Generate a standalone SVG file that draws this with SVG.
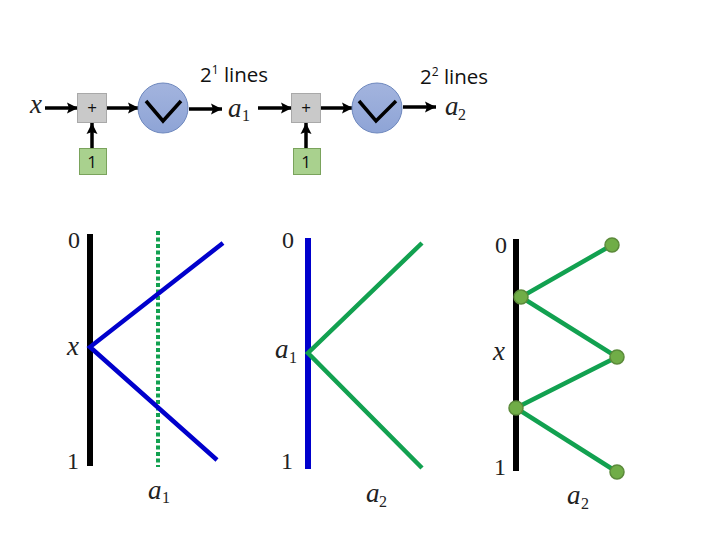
<svg xmlns="http://www.w3.org/2000/svg" width="720" height="540" viewBox="0 0 720 540">
<defs>
<marker id="ah" markerUnits="userSpaceOnUse" markerWidth="12" markerHeight="12" refX="11" refY="6" orient="auto"><path d="M0 0.500L11 6L0 11.500L2 6Z" fill="#000"/></marker>
<linearGradient id="blue" x1="0" y1="0" x2="0" y2="1"><stop offset="0" stop-color="#a3b4de"/><stop offset="1" stop-color="#8ea4d6"/></linearGradient>
</defs>
<style>
.lbl{font-family:"Open Sans","Noto Sans",sans-serif;font-size:20.500px;fill:#111}
.small{font-family:"Open Sans","Noto Sans",sans-serif;font-size:17px;fill:#111;text-anchor:middle}
.m{font-family:"Liberation Serif",serif;font-size:24px;fill:#222}
.mi{font-family:"Liberation Serif",serif;font-style:italic;font-size:27px;fill:#222}
.sub{font-family:"Liberation Serif",serif;font-size:16px;fill:#222}
.gray{fill:#c9c9c9;stroke:#a9a9a9;stroke-width:1}
.gr{fill:#a9d18e;stroke:#7aa35c;stroke-width:1}
.cir{fill:url(#blue);stroke:#6d87bd;stroke-width:1}
.vee{fill:none;stroke:#000;stroke-width:3.500}
.arr{stroke:#000;stroke-width:3.500;fill:none;marker-end:url(#ah)}
.dot{fill:#70ad47;stroke:#5b8a3a;stroke-width:1.500}
.gl{stroke:#12a150;stroke-width:4.500;fill:none}
.bl{stroke:#0000cc;stroke-width:4.500;fill:none}
</style>
<g id="connectors">
<line class="arr" x1="45" y1="108" x2="78" y2="108"/>
<line class="arr" x1="106" y1="108" x2="139" y2="108"/>
<line class="arr" x1="92" y1="148" x2="92" y2="123"/>
<line class="arr" x1="189" y1="109" x2="222" y2="109"/>
<line class="arr" x1="258" y1="108" x2="292" y2="108"/>
<line class="arr" x1="320" y1="108" x2="353" y2="108"/>
<line class="arr" x1="306" y1="148" x2="306" y2="123"/>
<line class="arr" x1="403" y1="107" x2="436" y2="107"/>
</g>
<g id="x-in"><text class="mi" x="30" y="113">x</text></g>
<g id="add1"><rect class="gray" x="77.500" y="93.500" width="29" height="29"/><text class="small" x="92" y="114">+</text></g>
<g id="one1"><rect class="gr" x="79.500" y="148.500" width="27" height="26"/><text class="small" x="92" y="168">1</text></g>
<g id="vee1"><circle class="cir" cx="163" cy="108" r="25"/><path class="vee" d="M146 101L163 121L181 101"/></g>
<g id="a1-out"><text class="mi" x="228" y="117">a</text><text class="sub" x="242" y="121">1</text></g>
<g id="add2"><rect class="gray" x="291.500" y="93.500" width="29" height="29"/><text class="small" x="306" y="114">+</text></g>
<g id="one2"><rect class="gr" x="293.500" y="148.500" width="27" height="26"/><text class="small" x="306" y="168">1</text></g>
<g id="vee2"><circle class="cir" cx="377" cy="108" r="25"/><path class="vee" d="M359 101L376 121L396 101"/></g>
<g id="a2-out"><text class="mi" x="445" y="115">a</text><text class="sub" x="458" y="120">2</text></g>
<g id="title1"><text class="lbl" x="200" y="82">2<tspan font-size="12" dy="-8">1</tspan><tspan dy="8"> lines</tspan></text></g>
<g id="title2"><text class="lbl" x="420" y="84">2<tspan font-size="12" dy="-8">2</tspan><tspan dy="8"> lines</tspan></text></g>
<g id="panel1">
<rect x="87" y="234" width="6" height="232" fill="#000"/>
<line x1="158" y1="231" x2="158" y2="467" stroke="#12a150" stroke-width="4" stroke-dasharray="4 2.500"/>
<path class="bl" d="M223 243L90 347L217 460"/>
<text class="m" x="68" y="248">0</text><text class="mi" x="67" y="355">x</text><text class="m" x="67" y="469">1</text>
<text class="mi" x="148" y="499">a</text><text class="sub" x="162" y="503">1</text>
</g>
<g id="panel2">
<rect x="305" y="238" width="6" height="231" fill="#0000cc"/>
<path class="gl" d="M422 243L308 353L422 468"/>
<text class="m" x="282" y="248">0</text><text class="mi" x="275" y="358">a</text><text class="sub" x="289" y="363">1</text><text class="m" x="281" y="469">1</text>
<text class="mi" x="366" y="502">a</text><text class="sub" x="379" y="507">2</text>
</g>
<g id="panel3">
<rect x="513" y="239" width="6" height="232" fill="#000"/>
<path class="gl" d="M612 245L521 297L617 357L516 408L617 472"/>
<circle class="dot" cx="612" cy="245" r="7"/><circle class="dot" cx="521" cy="297" r="7"/><circle class="dot" cx="617" cy="357" r="7"/><circle class="dot" cx="516" cy="408" r="7"/><circle class="dot" cx="617" cy="472" r="7"/>
<text class="m" x="495" y="253">0</text><text class="mi" x="493" y="360">x</text><text class="m" x="494" y="475">1</text>
<text class="mi" x="567" y="504">a</text><text class="sub" x="581" y="509">2</text>
</g>
</svg>
